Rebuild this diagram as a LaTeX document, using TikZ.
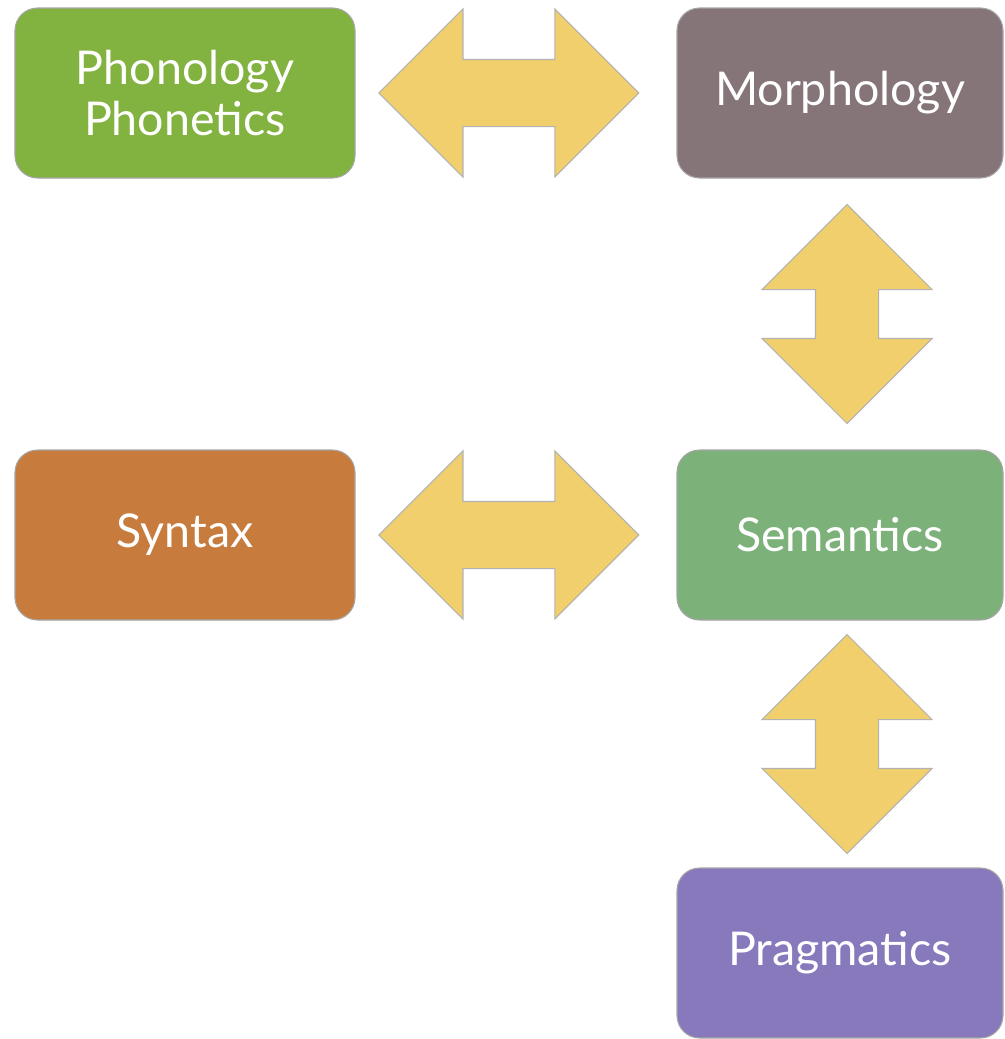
\documentclass[tikz,border=0pt]{standalone}
\usepackage{fontspec}
\setmainfont{Lato}
\usetikzlibrary{shapes.arrows, calc}

\definecolor{phongreen}{HTML}{82B23F}
\definecolor{morphmauve}{HTML}{857579}
\definecolor{syntaxorange}{HTML}{C77C3D}
\definecolor{semgreen}{HTML}{7CB17A}
\definecolor{pragpurple}{HTML}{8779BC}
\definecolor{arrowyellow}{HTML}{F0CF6C}

\begin{document}
\begin{tikzpicture}[%
        field/.style = {%
            draw = gray!70,
            line width = 0.6pt,
            rounded corners = 0.45cm,
            minimum height = 3.4cm,
            inner sep = 0pt,
            align = center,
            text = white,
            font = \fontsize{26.5}{29}\selectfont
        },
        link/.style = {%
            double arrow,
            draw = gray!60,
            line width = 0.6pt,
            fill = arrowyellow,
            double arrow tip angle = 90,
            inner sep = 0pt,
            text depth = 0pt
        },
        sidelink/.style = {%
            link,
            text height = 1.32cm,
            minimum height = 5.2cm,
            minimum width = 3.34cm,
            double arrow head extend = 1.01cm
        },
        uplink/.style = {%
            link,
            rotate = 90,
            text height = 1.24cm,
            minimum height = 4.38cm,
            minimum width = 3.38cm,
            double arrow head extend = 1.07cm
        }
    ]

        % Fix the page to the size of the reference.
        \useasboundingbox (0.0, 0.0) rectangle (20.08, -20.78);

        % The five fields of linguistics.
        \node[field, fill = phongreen, minimum width = 6.8cm]
            (phon) at (3.7, -1.86) {Phonology\\Phonetics};
        \node[field, fill = morphmauve, minimum width = 6.52cm]
            (morph) at (16.8, -1.86) {Morphology};
        \node[field, fill = syntaxorange, minimum width = 6.8cm]
            (syntax) at (3.7, -10.7) {Syntax};
        \node[field, fill = semgreen, minimum width = 6.52cm]
            (sem) at (16.8, -10.7) {Semantics};
        \node[field, fill = pragpurple, minimum width = 6.52cm]
            (prag) at (16.8, -19.06) {Pragmatics};

        % Arrows running across between the two columns.
        \node[sidelink] (phonmorph)
            at ($(phon.east)!0.478!(morph.west)$) {};
        \node[sidelink] (syntaxsem)
            at ($(syntax.east)!0.478!(sem.west)$) {};

        % Arrows running down the right column.
        \node[uplink] (morphsem)
            at ($($(morph.south)!0.5!(sem.north)$) + (0.14, 0.0)$) {};
        \node[uplink] (semprag)
            at ($($(sem.south)!0.5!(prag.north)$) + (0.14, 0.0)$) {};
    \end{tikzpicture}
\end{document}
